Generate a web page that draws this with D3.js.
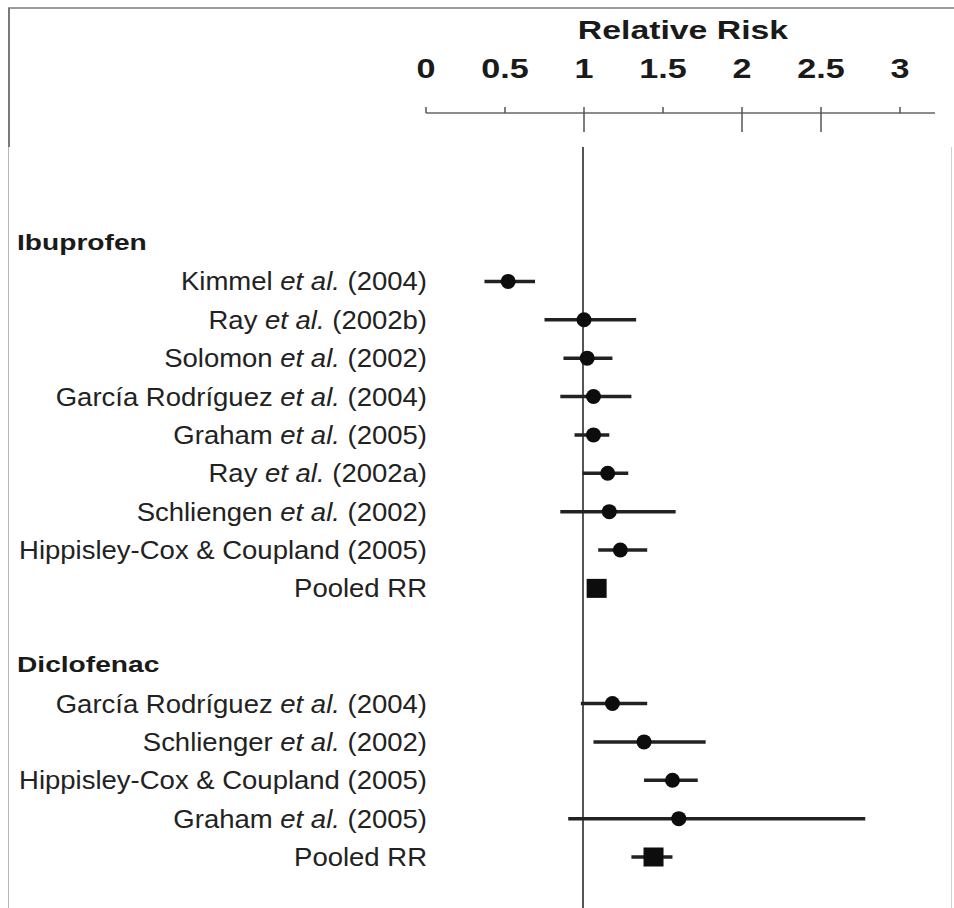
<!DOCTYPE html>
<html>
<head>
<meta charset="utf-8">
<script src="https://cdn.jsdelivr.net/npm/d3@7"></script>
<style>
  body { margin: 0; background: #fff; }
  text { font-family: "Liberation Sans", Arial, Helvetica, sans-serif; }
</style>
</head>
<body>
<script>
// data
var axisTicks = [0, 0.5, 1, 1.5, 2, 2.5, 3];
var longTicks = [1, 2, 2.5];

var groups = ['Ibuprofen', 'Diclofenac'];

var ibuLabels = ['Kimmel et al. (2004)', 'Ray et al. (2002b)', 'Solomon et al. (2002)',
  'García Rodríguez et al. (2004)', 'Graham et al. (2005)', 'Ray et al. (2002a)',
  'Schliengen et al. (2002)', 'Hippisley-Cox & Coupland (2005)', 'Pooled RR'];
var ibuRR   = [0.52, 1.00, 1.02, 1.06, 1.06, 1.15, 1.16, 1.23, 1.08];
var ibuLow  = [0.37, 0.75, 0.87, 0.85, 0.94, 0.99, 0.85, 1.09, 1.03];
var ibuHigh = [0.69, 1.33, 1.18, 1.30, 1.16, 1.28, 1.58, 1.40, 1.13];

var dicLabels = ['García Rodríguez et al. (2004)', 'Schlienger et al. (2002)',
  'Hippisley-Cox & Coupland (2005)', 'Graham et al. (2005)', 'Pooled RR'];
var dicRR   = [1.18, 1.38, 1.56, 1.60, 1.44];
var dicLow  = [0.98, 1.06, 1.38, 0.90, 1.30];
var dicHigh = [1.40, 1.77, 1.72, 2.78, 1.56];

var width = 954, height = 908;

// build the row list: header, studies, gap, header, studies
var rows = [];
rows.push({ type: 'header', label: groups[0] });
ibuLabels.forEach(function(l, i) {
  rows.push({ type: l == 'Pooled RR' ? 'pooled' : 'study', label: l, rr: ibuRR[i], lo: ibuLow[i], hi: ibuHigh[i] });
});
rows.push({ type: 'gap' });
rows.push({ type: 'header', label: groups[1] });
dicLabels.forEach(function(l, i) {
  rows.push({ type: l == 'Pooled RR' ? 'pooled' : 'study', label: l, rr: dicRR[i], lo: dicLow[i], hi: dicHigh[i] });
});
rows.forEach(function(r, i) { r.idx = i; });

var x = d3.scaleLinear().domain([0, 3]).range([426, 900]);
var y = d3.scaleLinear().domain([0, rows.length - 1]).range([243, 857]);

var svg = d3.select('body').append('svg')
  .attr('width', width)
  .attr('height', height);

// frame of the top panel
svg.append('line').attr('x1', 8).attr('x2', width).attr('y1', 8).attr('y2', 8)
  .attr('stroke', '#7a7a7a').attr('stroke-width', 1.5);
svg.append('line').attr('x1', 9).attr('x2', 9).attr('y1', 8).attr('y2', 147)
  .attr('stroke', '#7a7a7a').attr('stroke-width', 2);
// frame of the lower panel
svg.append('line').attr('x1', 8.5).attr('x2', 8.5).attr('y1', 147).attr('y2', height)
  .attr('stroke', '#b5b5b5').attr('stroke-width', 1);
svg.append('line').attr('x1', 951.5).attr('x2', 951.5).attr('y1', 147).attr('y2', height)
  .attr('stroke', '#d0d0d0').attr('stroke-width', 1);

// axis at the top
var axisY = 113;
var axisG = svg.append('g').attr('transform', 'translate(0,' + axisY + ')');
axisG.append('line')
  .attr('x1', x(0)).attr('x2', 935)
  .attr('stroke', '#666').attr('stroke-width', 1.5);
axisG.selectAll('.tick').data(axisTicks).enter().append('line')
  .attr('x1', function(d) { return x(d); })
  .attr('x2', function(d) { return x(d); })
  .attr('y1', -6)
  .attr('y2', function(d) { return longTicks.indexOf(d) >= 0 ? 19 : 0; })
  .attr('stroke', '#555').attr('stroke-width', 1.5);

svg.selectAll('.ticklab').data(axisTicks).enter().append('text')
  .attr('transform', function(d) { return 'translate(' + x(d) + ',78) scale(1.22,1)'; })
  .attr('text-anchor', 'middle')
  .attr('font-size', 28)
  .attr('font-weight', 'bold')
  .attr('fill', '#1a1a1a')
  .text(function(d) { return d; });

svg.append('text')
  .attr('transform', 'translate(683,39) scale(1.3,1)')
  .attr('text-anchor', 'middle')
  .attr('font-size', 26)
  .attr('font-weight', 'bold')
  .attr('fill', '#1a1a1a')
  .text('Relative Risk');

// reference line at RR = 1
svg.append('line')
  .attr('x1', x(1) - 1).attr('x2', x(1) - 1)
  .attr('y1', 147).attr('y2', height)
  .attr('stroke', '#555').attr('stroke-width', 2);

// group headers
svg.selectAll('.header').data(rows.filter(function(r) { return r.type == 'header'; }))
  .enter().append('text')
  .attr('transform', function(d) { return 'translate(17,' + (y(d.idx) + 7) + ') scale(1.28,1)'; })
  .attr('font-size', 22)
  .attr('font-weight', 'bold')
  .attr('fill', '#1a1a1a')
  .text(function(d) { return d.label; });

// study labels, "et al." in italics
var items = rows.filter(function(r) { return r.type == 'study' || r.type == 'pooled'; });

var labels = svg.selectAll('.label').data(items).enter().append('text')
  .attr('transform', function(d) { return 'translate(427,' + (y(d.idx) + 9) + ') scale(1.1,1)'; })
  .attr('text-anchor', 'end')
  .attr('font-size', 25)
  .attr('fill', '#222');

labels.each(function(d) {
  var t = d3.select(this);
  var parts = d.label.split('et al.');
  if (parts.length == 2) {
    t.append('tspan').text(parts[0]);
    t.append('tspan').attr('font-style', 'italic').text('et al.');
    t.append('tspan').text(parts[1]);
  } else {
    t.text(d.label);
  }
});

// confidence intervals
svg.selectAll('.ci').data(items).enter().append('line')
  .attr('x1', function(d) { return x(d.lo); })
  .attr('x2', function(d) { return x(d.hi); })
  .attr('y1', function(d) { return y(d.idx); })
  .attr('y2', function(d) { return y(d.idx); })
  .attr('stroke', '#222')
  .attr('stroke-width', 3.5);

// point estimates
svg.selectAll('.dot').data(items.filter(function(d) { return d.type == 'study'; }))
  .enter().append('circle')
  .attr('cx', function(d) { return x(d.rr); })
  .attr('cy', function(d) { return y(d.idx); })
  .attr('r', 7.5)
  .attr('fill', '#0d0d0d');

svg.selectAll('.pooled').data(items.filter(function(d) { return d.type == 'pooled'; }))
  .enter().append('rect')
  .attr('x', function(d) { return x(d.rr) - 10; })
  .attr('y', function(d) { return y(d.idx) - 9.5; })
  .attr('width', 20)
  .attr('height', 19)
  .attr('fill', '#0d0d0d');
</script>
</body>
</html>
